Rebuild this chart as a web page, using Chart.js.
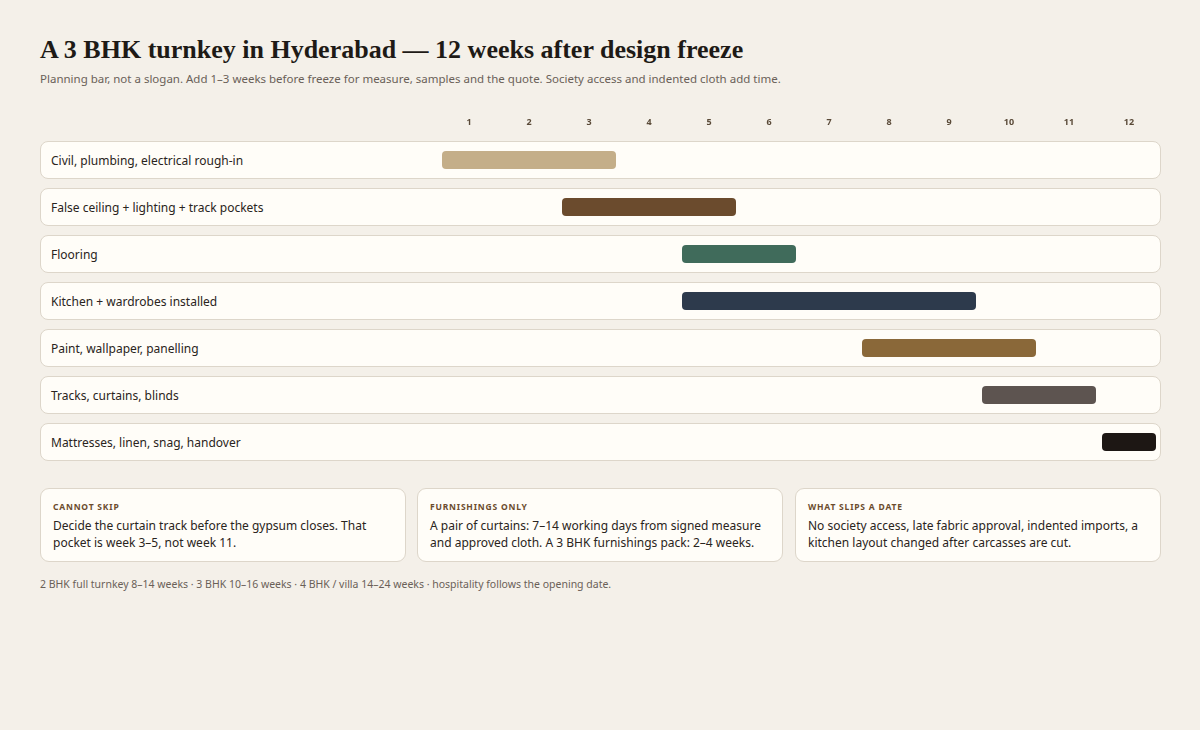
<!DOCTYPE html>
<html><head><meta charset="utf-8">
<script src="https://cdn.jsdelivr.net/npm/chart.js@4/dist/chart.umd.min.js"></script>
<style>
body{margin:0;background:#f4f0e9;font-family:"Noto Sans",sans-serif;color:#2a2420;width:1200px;height:730px;position:relative;overflow:hidden}
h1{position:absolute;left:40px;top:35px;margin:0;font-family:"Liberation Serif",serif;font-size:26px;font-weight:bold;color:#1e1a16}
.sub{position:absolute;left:40px;top:71px;font-size:11.5px;color:#6a6058}
.row{position:absolute;left:40px;width:1119px;height:36px;background:#fffdf8;border:1px solid #ddd6ca;border-radius:8px;box-sizing:content-box}
.row span{position:absolute;left:10px;top:10px;font-size:12px;color:#2a2420}
canvas{position:absolute;left:0;top:0}
#wrap{position:absolute;left:40px;top:105px;width:1120px;height:370px}
.card{position:absolute;top:488px;width:364px;height:72px;background:#fffdf8;border:1px solid #ddd6ca;border-radius:9px}
.card b{position:absolute;left:12px;top:12px;font-size:8.5px;letter-spacing:0.8px;color:#6b4c2e}
.card p{position:absolute;left:12px;top:28px;margin:0;font-size:12px;line-height:17px;color:#2a2420;width:345px}
.foot{position:absolute;left:40px;top:577px;font-size:10.5px;color:#6a6058}
</style></head><body>
<h1>A 3 BHK turnkey in Hyderabad — 12 weeks after design freeze</h1>
<div class="sub">Planning bar, not a slogan. Add 1–3 weeks before freeze for measure, samples and the quote. Society access and indented cloth add time.</div>
<div id="rows"></div>
<div id="wrap"><canvas id="c" width="1120" height="370"></canvas></div>
<div class="card" style="left:40px"><b>CANNOT SKIP</b><p>Decide the curtain track before the gypsum closes. That pocket is week 3–5, not week 11.</p></div>
<div class="card" style="left:417px"><b>FURNISHINGS ONLY</b><p>A pair of curtains: 7–14 working days from signed measure and approved cloth. A 3 BHK furnishings pack: 2–4 weeks.</p></div>
<div class="card" style="left:795px"><b>WHAT SLIPS A DATE</b><p>No society access, late fabric approval, indented imports, a kitchen layout changed after carcasses are cut.</p></div>
<div class="foot">2 BHK full turnkey 8–14 weeks · 3 BHK 10–16 weeks · 4 BHK / villa 14–24 weeks · hospitality follows the opening date.</div>
<script>
const tasks=["Civil, plumbing, electrical rough-in","False ceiling + lighting + track pockets","Flooring","Kitchen + wardrobes installed","Paint, wallpaper, panelling","Tracks, curtains, blinds","Mattresses, linen, snag, handover"];
const startWeek=[1,3,5,5,8,10,12];
const endWeek=[3,5,6,9,10,11,12];
const colors=["#c4ae89","#6b4b2d","#406b5b","#2d3a4c","#8a6839","#5d5450","#1d1714"];
const weekLabels=["1","2","3","4","5","6","7","8","9","10","11","12"];
const rows=document.getElementById('rows');
tasks.forEach((t,i)=>{const d=document.createElement('div');d.className='row';d.style.top=(141+47*i)+'px';d.innerHTML='<span>'+t+'</span>';rows.appendChild(d);});
const tickPlugin={id:'wk',afterDraw(ch){const x=ch.scales.x,ctx=ch.ctx;ctx.save();ctx.font='bold 9px "Noto Sans"';ctx.fillStyle='#5a4a38';ctx.textAlign='center';ctx.textBaseline='middle';weekLabels.forEach((l,i)=>ctx.fillText(l,x.getPixelForValue(i+0.5),17));ctx.restore();}};
new Chart(document.getElementById('c'),{type:'bar',
data:{labels:tasks,datasets:[{data:tasks.map((t,i)=>[startWeek[i]-1,endWeek[i]]),backgroundColor:colors,borderWidth:0,borderSkipped:false,borderRadius:4,inflateAmount:-3,barThickness:24}]},
options:{indexAxis:'y',responsive:false,animation:false,layout:{padding:{left:399,right:1,top:31.5,bottom:9.5}},
plugins:{legend:{display:false},tooltip:{enabled:false}},
scales:{x:{type:'linear',min:0,max:12,display:false},y:{display:false,offset:true}}},
plugins:[tickPlugin]});
</script></body></html>
